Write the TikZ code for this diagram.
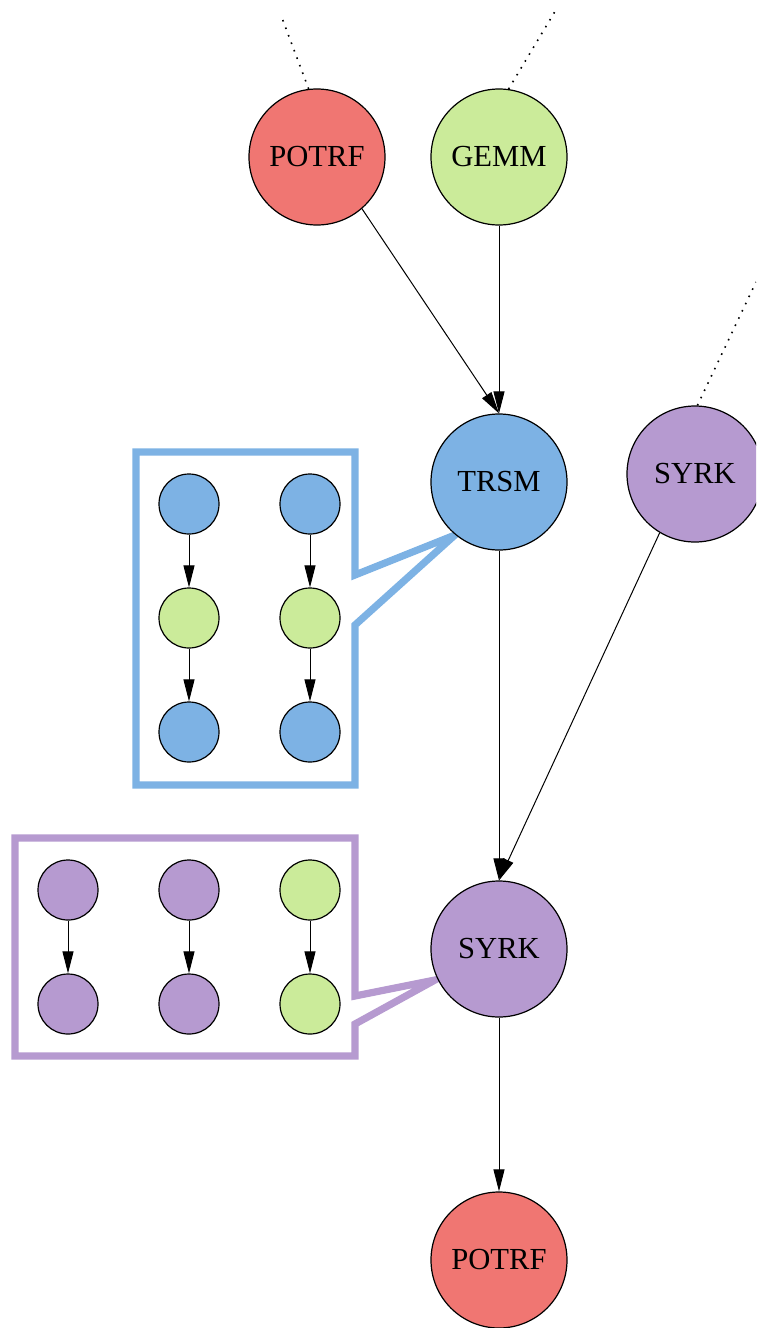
\documentclass[tikz,border=0pt]{standalone}
\usepackage{fontspec}
\setmainfont{Liberation Serif}
\usetikzlibrary{arrows.meta}
\definecolor{potrfred}{HTML}{F07672}
\definecolor{gemmgreen}{HTML}{CBEB9A}
\definecolor{trsmblue}{HTML}{7DB2E4}
\definecolor{syrkpurple}{HTML}{B69AD0}
\begin{document}
\begin{tikzpicture}[x=0.5pt, y=-0.5pt, node distance=57pt, >={Triangle[length=11pt,width=5.5pt]}]
\tikzstyle{kernel}=[circle,draw=black,line width=0.6pt,minimum size=68pt,inner sep=0pt,font=\fontsize{15.3}{18}\selectfont]
\tikzstyle{potrf}=[kernel,fill=potrfred]
\tikzstyle{gemm}=[kernel,fill=gemmgreen]
\tikzstyle{trsm}=[kernel,fill=trsmblue]
\tikzstyle{syrk}=[kernel,fill=syrkpurple]
\tikzstyle{sub}=[circle,draw=black,line width=0.6pt,minimum size=30pt,inner sep=0pt]
\tikzstyle{zoombox}=[line width=3.6pt,fill=white]
\tikzstyle{flow}=[line width=0.5pt]
\tikzstyle{offpic}=[line width=0.8pt,dash pattern=on 0.8pt off 3.2pt]
\clip (0,0) rectangle (756,1328);

% zoomed views
\draw[zoombox,draw=trsmblue] (136,452) -- (355,452) -- (355,575) -- (455,535)
  -- (355,625) -- (355,785) -- (136,785) -- cycle;
\draw[zoombox,draw=syrkpurple] (15,838) -- (355,838) -- (355,996) -- (435,980)
  -- (355,1024) -- (355,1056) -- (15,1056) -- cycle;

% kernels
\node[potrf](potrf1) at (317,157) {POTRF};
\node[gemm](gemm1) at (499,157) {GEMM};
\node[trsm](trsm1) at (499,482) {TRSM};
\node[syrk](syrk2) at (695,474) {SYRK};
\node[syrk](syrk1) at (499,949) {SYRK};
\node[potrf](potrf2) at (499,1260) {POTRF}
  edge [<-,flow] (syrk1);

\draw[->,flow] (potrf1.-49) -- (trsm1.north);
\draw[->,flow] (gemm1) -- (trsm1.north);
\draw[->,flow] (trsm1) -- (syrk1.north);
\draw[->,flow] (syrk2.-121) -- (syrk1.north);

% predecessors off the picture
\coordinate (from potrf) at (282,18);
\coordinate (from gemm) at (557,8);
\coordinate (from syrk) at (756,282);
\draw[offpic] (potrf1.97) -- (from potrf);
\draw[offpic] (gemm1.82) -- (from gemm);
\draw[offpic] (syrk2.88) -- (from syrk);

% inside TRSM
\node[sub,fill=trsmblue](ta1) at (189,504) {};
\node[sub,fill=gemmgreen](ta2)[below of=ta1] {}
  edge [<-,flow] (ta1);
\node[sub,fill=trsmblue](ta3)[below of=ta2] {}
  edge [<-,flow] (ta2);
\node[sub,fill=trsmblue](tb1) at (310,504) {};
\node[sub,fill=gemmgreen](tb2)[below of=tb1] {}
  edge [<-,flow] (tb1);
\node[sub,fill=trsmblue](tb3)[below of=tb2] {}
  edge [<-,flow] (tb2);

% inside SYRK
\node[sub,fill=syrkpurple](sa1) at (68,890) {};
\node[sub,fill=syrkpurple](sa2)[below of=sa1] {}
  edge [<-,flow] (sa1);
\node[sub,fill=syrkpurple](sb1) at (189,890) {};
\node[sub,fill=syrkpurple](sb2)[below of=sb1] {}
  edge [<-,flow] (sb1);
\node[sub,fill=gemmgreen](sc1) at (310,890) {};
\node[sub,fill=gemmgreen](sc2)[below of=sc1] {}
  edge [<-,flow] (sc1);
\end{tikzpicture}
\end{document}
